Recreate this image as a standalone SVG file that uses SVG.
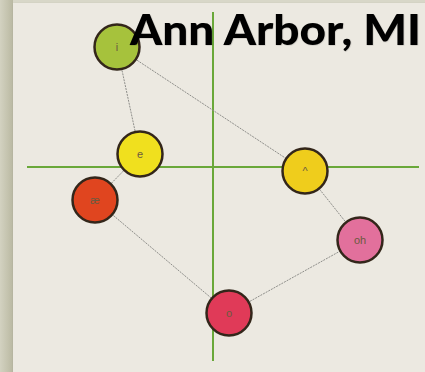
<svg xmlns="http://www.w3.org/2000/svg" width="425" height="372" viewBox="0 0 425 372">
<defs>
<linearGradient id="frame" x1="0" y1="0" x2="1" y2="0">
<stop offset="0" stop-color="#d3d2c1"/>
<stop offset="0.6" stop-color="#c4c3ae"/>
<stop offset="1" stop-color="#b9b8a2"/>
</linearGradient>
<filter id="sh" x="-10%" y="-10%" width="130%" height="130%">
<feDropShadow dx="1" dy="1" stdDeviation="1.2" flood-color="#000" flood-opacity="0.25"/>
</filter>
<filter id="tsh" x="-5%" y="-20%" width="110%" height="140%">
<feDropShadow dx="0.5" dy="0.5" stdDeviation="0.6" flood-color="#000" flood-opacity="0.2"/>
</filter>
</defs>
<style>
.node circle{stroke:#33261a;stroke-width:2.5}
.node text{font-family:"Liberation Sans",Arial,sans-serif;font-size:11px;fill:#6a5a40;text-anchor:middle;dominant-baseline:central}
.conn line{stroke:#8e8e8a;stroke-width:1;stroke-dasharray:2 1}
.axis{stroke:#6aa83a;stroke-width:2}
.title{font-family:Lato,"Open Sans",sans-serif;font-weight:900;font-size:42px;fill:#000}
</style>
<rect x="0" y="0" width="425" height="372" fill="#d8d7c8"/>
<rect x="0" y="0" width="13" height="372" fill="url(#frame)"/>
<rect x="13" y="3" width="412" height="369" fill="#ece9e1" filter="url(#sh)"/>
<g id="axes">
<line class="axis" x1="27" y1="167" x2="419" y2="167"/>
<line class="axis" x1="213" y1="12" x2="213" y2="361"/>
</g>
<g id="connectors" class="conn">
<line x1="117" y1="47" x2="140" y2="154"/>
<line x1="117" y1="47" x2="305" y2="171"/>
<line x1="140" y1="154" x2="95" y2="200"/>
<line x1="95" y1="200" x2="229" y2="313"/>
<line x1="229" y1="313" x2="360" y2="240"/>
<line x1="360" y1="240" x2="305" y2="171"/>
</g>
<g id="node-i" class="node"><circle cx="117" cy="47" r="22.5" fill="#a6c23c"/><text x="117" y="47">i</text></g>
<g id="node-e" class="node"><circle cx="140" cy="154" r="22.5" fill="#f0e01e"/><text x="140" y="154">e</text></g>
<g id="node-ae" class="node"><circle cx="95" cy="200" r="22.5" fill="#e0451f"/><text x="95" y="200">æ</text></g>
<g id="node-caret" class="node"><circle cx="305" cy="171" r="22.5" fill="#efcd1c"/><text x="305" y="171">^</text></g>
<g id="node-oh" class="node"><circle cx="360" cy="240" r="22.5" fill="#e2709c"/><text x="360" y="240">oh</text></g>
<g id="node-o" class="node"><circle cx="229" cy="313" r="22.5" fill="#e03a58"/><text x="229" y="313">o</text></g>
<text class="title" x="130" y="45" textLength="291" lengthAdjust="spacingAndGlyphs" filter="url(#tsh)">Ann Arbor, MI</text>
</svg>
